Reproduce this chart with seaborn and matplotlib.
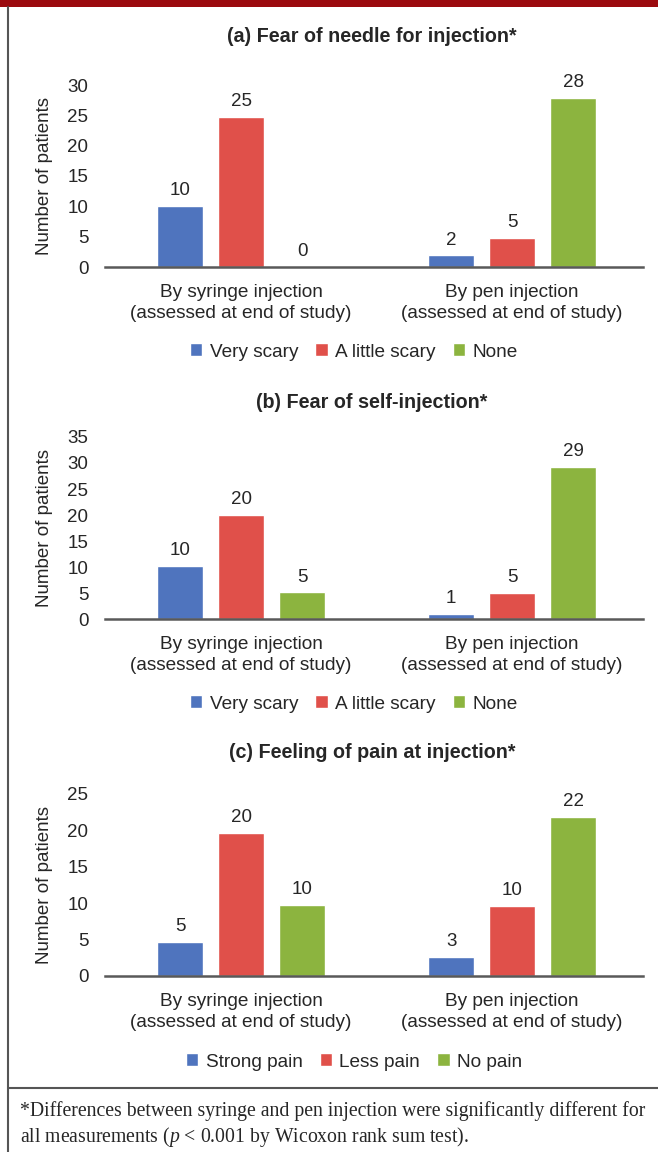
import numpy as np
import pandas as pd
import matplotlib
matplotlib.use("Agg")
from matplotlib import pyplot as plt
from matplotlib.lines import Line2D
from matplotlib.patches import Rectangle
import seaborn as sns

# data
groups = ["By syringe injection\n(assessed at end of study)",
          "By pen injection\n(assessed at end of study)"]
titles = ["(a) Fear of needle for injection*",
          "(b) Fear of self-injection*",
          "(c) Feeling of pain at injection*"]
fear_levels = ["Very scary", "A little scary", "None"]
pain_levels = ["Strong pain", "Less pain", "No pain"]

needle_syringe = [10, 24.8, 0]
needle_pen = [1.9, 4.8, 27.9]
self_syringe = [10.2, 20, 5.1]
self_pen = [1, 5, 29.2]
pain_syringe = [4.7, 19.6, 9.7]
pain_pen = [2.6, 9.6, 21.8]

y_max = [30, 35, 25]
colors = ["#4f74be", "#e0504a", "#8cb43f"]

sns.set_style("white")
plt.rcParams["font.family"] = ["Liberation Sans", "DejaVu Sans"]
plt.rcParams["mathtext.fontset"] = "custom"
plt.rcParams["mathtext.rm"] = "Liberation Serif"
plt.rcParams["mathtext.it"] = "Liberation Serif:italic"

W, H = 658, 1152
fig = plt.figure(figsize=(W / 100, H / 100), dpi=100)

panels = [
    (needle_syringe, needle_pen, fear_levels),
    (self_syringe, self_pen, fear_levels),
    (pain_syringe, pain_pen, pain_levels),
]
baselines = [267, 619, 976]
title_y = [37, 403, 753]
legend_y = [352, 704, 1062]

for i, (syr, pen, levels) in enumerate(panels):
    df = pd.DataFrame({
        "group": [groups[0]] * 3 + [groups[1]] * 3,
        "level": levels * 2,
        "count": syr + pen,
    })
    y0 = baselines[i]
    ax = fig.add_axes([105 / W, 1 - y0 / H, 538 / W, 182 / H])
    sns.barplot(data=df, x="group", y="count", hue="level", hue_order=levels,
                palette=colors, width=0.675, gap=0.245, saturation=1,
                ax=ax)
    handles, labels = ax.get_legend_handles_labels()
    ax.get_legend().remove()
    for c in ax.containers:
        ax.bar_label(c, fmt="%.0f", padding=5, fontsize=13.5)
    ax.set_ylim(0, y_max[i])
    ax.set_yticks(np.arange(0, y_max[i] + 1, 5))
    ax.set_xlim(-0.502, 1.483)
    ax.set_xlabel("")
    ax.set_ylabel("Number of patients", fontsize=13.5, labelpad=10)
    ax.tick_params(axis="y", length=0, pad=12, labelsize=13.5)
    ax.tick_params(axis="x", length=0, pad=12, labelsize=13.7)
    for lab in ax.get_xticklabels():
        lab.set_linespacing(1.35)
    for s in ["top", "right", "left"]:
        ax.spines[s].set_visible(False)
    ax.spines["bottom"].set_color("#595959")
    ax.spines["bottom"].set_linewidth(1.8)

    fig.text(372 / W, 1 - title_y[i] / H, titles[i], ha="center", va="center",
             fontsize=14.2, fontweight="bold")
    fig.legend(handles, labels, loc="center", bbox_to_anchor=(354 / W, 1 - legend_y[i] / H),
               ncol=3, frameon=False, fontsize=13.7, handlelength=0.65, handleheight=0.65,
               handletextpad=0.4, columnspacing=0.9)

# frame pieces
fig.add_artist(Rectangle((0, 1 - 7 / H), 1, 7 / H, transform=fig.transFigure,
                         color="#9b0a0e", lw=0))
fig.add_artist(Line2D([8 / W, 8 / W], [0, 1 - 7 / H], transform=fig.transFigure,
                      color="#555555", lw=1.5))
fig.add_artist(Line2D([8 / W, 1], [1 - 1088 / H, 1 - 1088 / H], transform=fig.transFigure,
                      color="#555555", lw=1.5))

fig.text(20 / W, 1 - 1111 / H,
         "*Differences between syringe and pen injection were significantly different for",
         ha="left", va="center", fontsize=14.2, family="Liberation Serif")
fig.text(20 / W, 1 - 1137 / H,
         "all measurements ($p$ < 0.001 by Wicoxon rank sum test).",
         ha="left", va="center", fontsize=14.2, family="Liberation Serif")

fig.savefig("out.png", dpi=100)
